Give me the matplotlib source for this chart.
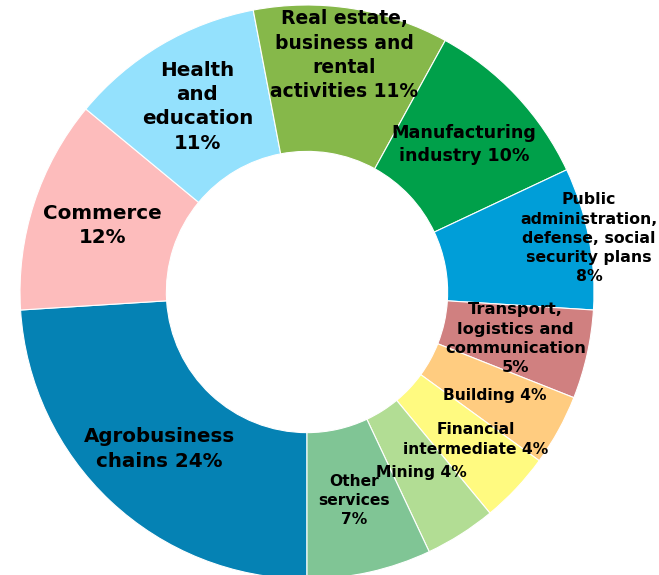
import numpy as np
import matplotlib
matplotlib.use('Agg')
import matplotlib.pyplot as plt

# sectors, clockwise from the bottom of the donut
sectors = ['Agrobusiness\nchains', 'Commerce\n', 'Health\nand\neducation\n',
           'Real estate,\nbusiness and\nrental\nactivities', 'Manufacturing\nindustry',
           'Public\nadministration,\ndefense, social\nsecurity plans\n',
           'Transport,\nlogistics and\ncommunication\n', 'Building',
           'Financial\nintermediate', 'Mining', 'Other\nservices\n']
shares = [24, 12, 11, 11, 10, 8, 5, 4, 4, 4, 7]
colors = ['#0582b4', '#fdbcbc', '#94e1fd', '#86b84a', '#00a04a', '#009ed8',
          '#d08080', '#ffcc80', '#fffa80', '#b2dd94', '#80c595']

# label placement (radius as fraction of outer radius, angle shift in deg, font size)
lab_r = [0.75, 0.75, 0.75, 0.835, 0.75, 1.0, 0.745, 0.745, 0.78, 0.745, 0.745]
lab_da = [0, 0, 0, 0, 0, 0, 0, 0, 2, 0, 0]
lab_fs = [14.3, 14.3, 14.3, 13.5, 12.6, 11.3, 11.7, 11.2, 11.2, 11.2, 11.2]

fig = plt.figure(figsize=(6.59, 5.75), dpi=100)
ax = fig.add_axes([0, 0, 1, 1])

wedges, _ = ax.pie(shares, colors=colors, startangle=-90, counterclock=False,
                   radius=1.0, wedgeprops=dict(width=0.51, edgecolor='white', linewidth=0.8))

for w, name, val, r, da, fs in zip(wedges, sectors, shares, lab_r, lab_da, lab_fs):
    mid = np.deg2rad((w.theta1 + w.theta2) / 2 + da)
    sep = '' if name.endswith('\n') else ' '
    ax.text(r * np.cos(mid), r * np.sin(mid), '{}{}{}%'.format(name, sep, val),
            ha='center', va='center', fontsize=fs, fontweight='bold',
            linespacing=1.35, color='black')

ax.set_aspect('auto')
ax.set_xlim(-307 / 287, (659 - 307) / 287)
ax.set_ylim(-283 / 287, (575 - 283) / 287)
ax.axis('off')

plt.savefig('out.png', dpi=100)
